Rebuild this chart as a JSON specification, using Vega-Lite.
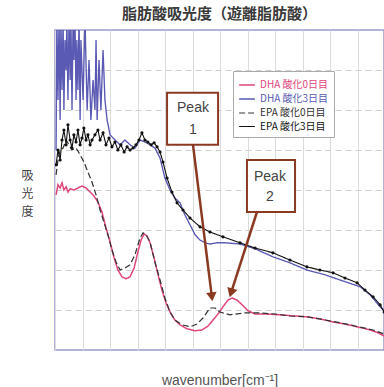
{
  "$schema": "https://vega.github.io/schema/vega-lite/v6.json",
  "width": 329,
  "height": 320,
  "autosize": "none",
  "padding": {"left": 55, "top": 30, "right": 0, "bottom": 37},
  "background": "white",
  "title": {"text": "脂肪酸吸光度（遊離脂肪酸）", "font": "Noto Sans CJK JP", "fontSize": 15, "fontWeight": "bold", "color": "#3a3a3a", "offset": 8, "anchor": "middle"},
  "config": {
    "view": {"stroke": "#9c9cd0", "strokeWidth": 1.5},
    "axis": {"labels": false, "ticks": false, "domain": false},
    "legend": {
      "orient": "none", "legendX": 178, "legendY": 41, "fillColor": "white", "strokeColor": "#aaaaaa",
      "padding": 5, "labelFontSize": 10, "labelFont": "Noto Sans CJK JP", "symbolType": "stroke",
      "symbolSize": 250, "rowPadding": 0, "labelOffset": 4, "symbolStrokeWidth": 1.5
    }
  },
  "datasets": {
    "curves": [
      {"s":"DHA 酸化0日目","x":0.04,"y":3.88},{"s":"DHA 酸化0日目","x":0.11,"y":4.13},{"s":"DHA 酸化0日目","x":0.19,"y":4.05},{"s":"DHA 酸化0日目","x":0.26,"y":4.18},{"s":"DHA 酸化0日目","x":0.33,"y":4.0},{"s":"DHA 酸化0日目","x":0.41,"y":4.08},{"s":"DHA 酸化0日目","x":0.48,"y":3.95},{"s":"DHA 酸化0日目","x":0.56,"y":4.03},{"s":"DHA 酸化0日目","x":0.7,"y":4.0},{"s":"DHA 酸化0日目","x":0.85,"y":4.05},{"s":"DHA 酸化0日目","x":1.0,"y":4.1},{"s":"DHA 酸化0日目","x":1.15,"y":4.05},{"s":"DHA 酸化0日目","x":1.3,"y":3.95},{"s":"DHA 酸化0日目","x":1.44,"y":3.85},{"s":"DHA 酸化0日目","x":1.59,"y":3.7},{"s":"DHA 酸化0日目","x":1.74,"y":3.45},{"s":"DHA 酸化0日目","x":1.89,"y":3.05},{"s":"DHA 酸化0日目","x":2.04,"y":2.7},{"s":"DHA 酸化0日目","x":2.19,"y":2.3},{"s":"DHA 酸化0日目","x":2.33,"y":2.0},{"s":"DHA 酸化0日目","x":2.48,"y":1.83},{"s":"DHA 酸化0日目","x":2.63,"y":1.78},{"s":"DHA 酸化0日目","x":2.78,"y":1.83},{"s":"DHA 酸化0日目","x":2.93,"y":2.05},{"s":"DHA 酸化0日目","x":3.07,"y":2.45},{"s":"DHA 酸化0日目","x":3.19,"y":2.75},{"s":"DHA 酸化0日目","x":3.3,"y":2.9},{"s":"DHA 酸化0日目","x":3.41,"y":2.85},{"s":"DHA 酸化0日目","x":3.52,"y":2.68},{"s":"DHA 酸化0日目","x":3.67,"y":2.3},{"s":"DHA 酸化0日目","x":3.81,"y":1.9},{"s":"DHA 酸化0日目","x":3.96,"y":1.5},{"s":"DHA 酸化0日目","x":4.11,"y":1.18},{"s":"DHA 酸化0日目","x":4.26,"y":0.95},{"s":"DHA 酸化0日目","x":4.44,"y":0.75},{"s":"DHA 酸化0日目","x":4.63,"y":0.63},{"s":"DHA 酸化0日目","x":4.89,"y":0.53},{"s":"DHA 酸化0日目","x":5.19,"y":0.48},{"s":"DHA 酸化0日目","x":5.44,"y":0.5},{"s":"DHA 酸化0日目","x":5.67,"y":0.6},{"s":"DHA 酸化0日目","x":5.85,"y":0.75},{"s":"DHA 酸化0日目","x":6.04,"y":0.9},{"s":"DHA 酸化0日目","x":6.22,"y":1.08},{"s":"DHA 酸化0日目","x":6.41,"y":1.25},{"s":"DHA 酸化0日目","x":6.56,"y":1.3},{"s":"DHA 酸化0日目","x":6.74,"y":1.25},{"s":"DHA 酸化0日目","x":6.93,"y":1.13},{"s":"DHA 酸化0日目","x":7.15,"y":0.98},{"s":"DHA 酸化0日目","x":7.41,"y":0.9},{"s":"DHA 酸化0日目","x":7.78,"y":0.9},{"s":"DHA 酸化0日目","x":8.33,"y":0.88},{"s":"DHA 酸化0日目","x":8.89,"y":0.85},{"s":"DHA 酸化0日目","x":9.33,"y":0.83},{"s":"DHA 酸化0日目","x":9.81,"y":0.78},{"s":"DHA 酸化0日目","x":10.3,"y":0.7},{"s":"DHA 酸化0日目","x":10.74,"y":0.65},{"s":"DHA 酸化0日目","x":11.19,"y":0.58},{"s":"DHA 酸化0日目","x":11.67,"y":0.5},{"s":"DHA 酸化0日目","x":11.96,"y":0.43},{"s":"DHA 酸化0日目","x":12.19,"y":0.35},

      {"s":"DHA 酸化3日目","x":0.04,"y":5.0},{"s":"DHA 酸化3日目","x":0.07,"y":8.3},{"s":"DHA 酸化3日目","x":0.11,"y":6.25},{"s":"DHA 酸化3日目","x":0.15,"y":8.3},{"s":"DHA 酸化3日目","x":0.19,"y":5.75},{"s":"DHA 酸化3日目","x":0.22,"y":8.3},{"s":"DHA 酸化3日目","x":0.26,"y":6.5},{"s":"DHA 酸化3日目","x":0.3,"y":8.3},{"s":"DHA 酸化3日目","x":0.33,"y":6.0},{"s":"DHA 酸化3日目","x":0.37,"y":7.75},{"s":"DHA 酸化3日目","x":0.41,"y":7.0},{"s":"DHA 酸化3日目","x":0.44,"y":8.3},{"s":"DHA 酸化3日目","x":0.48,"y":6.25},{"s":"DHA 酸化3日目","x":0.52,"y":8.3},{"s":"DHA 酸化3日目","x":0.56,"y":6.75},{"s":"DHA 酸化3日目","x":0.59,"y":8.3},{"s":"DHA 酸化3日目","x":0.63,"y":6.0},{"s":"DHA 酸化3日目","x":0.67,"y":8.3},{"s":"DHA 酸化3日目","x":0.7,"y":7.25},{"s":"DHA 酸化3日目","x":0.74,"y":8.3},{"s":"DHA 酸化3日目","x":0.78,"y":6.25},{"s":"DHA 酸化3日目","x":0.81,"y":7.75},{"s":"DHA 酸化3日目","x":0.85,"y":6.5},{"s":"DHA 酸化3日目","x":0.89,"y":8.3},{"s":"DHA 酸化3日目","x":0.93,"y":5.75},{"s":"DHA 酸化3日目","x":0.96,"y":7.75},{"s":"DHA 酸化3日目","x":1.04,"y":6.25},{"s":"DHA 酸化3日目","x":1.11,"y":8.3},{"s":"DHA 酸化3日目","x":1.19,"y":6.0},{"s":"DHA 酸化3日目","x":1.26,"y":7.25},{"s":"DHA 酸化3日目","x":1.33,"y":5.75},{"s":"DHA 酸化3日目","x":1.41,"y":6.75},{"s":"DHA 酸化3日目","x":1.48,"y":6.0},{"s":"DHA 酸化3日目","x":1.52,"y":7.75},{"s":"DHA 酸化3日目","x":1.56,"y":5.75},{"s":"DHA 酸化3日目","x":1.63,"y":7.25},{"s":"DHA 酸化3日目","x":1.7,"y":6.0},{"s":"DHA 酸化3日目","x":1.78,"y":7.5},{"s":"DHA 酸化3日目","x":1.85,"y":6.25},{"s":"DHA 酸化3日目","x":1.93,"y":5.75},{"s":"DHA 酸化3日目","x":2.04,"y":5.38},{"s":"DHA 酸化3日目","x":2.22,"y":5.25},{"s":"DHA 酸化3日目","x":2.41,"y":5.13},{"s":"DHA 酸化3日目","x":2.59,"y":5.25},{"s":"DHA 酸化3日目","x":2.78,"y":5.13},{"s":"DHA 酸化3日目","x":2.96,"y":5.05},{"s":"DHA 酸化3日目","x":3.15,"y":5.25},{"s":"DHA 酸化3日目","x":3.33,"y":5.2},{"s":"DHA 酸化3日目","x":3.52,"y":5.13},{"s":"DHA 酸化3日目","x":3.7,"y":5.05},{"s":"DHA 酸化3日目","x":3.89,"y":4.8},{"s":"DHA 酸化3日目","x":4.07,"y":4.3},{"s":"DHA 酸化3日目","x":4.26,"y":4.0},{"s":"DHA 酸化3日目","x":4.44,"y":3.8},{"s":"DHA 酸化3日目","x":4.63,"y":3.68},{"s":"DHA 酸化3日目","x":4.81,"y":3.38},{"s":"DHA 酸化3日目","x":5.0,"y":3.13},{"s":"DHA 酸化3日目","x":5.19,"y":2.88},{"s":"DHA 酸化3日目","x":5.37,"y":2.75},{"s":"DHA 酸化3日目","x":5.56,"y":2.68},{"s":"DHA 酸化3日目","x":5.74,"y":2.65},{"s":"DHA 酸化3日目","x":6.0,"y":2.68},{"s":"DHA 酸化3日目","x":6.3,"y":2.68},{"s":"DHA 酸化3日目","x":6.85,"y":2.65},{"s":"DHA 酸化3日目","x":7.41,"y":2.53},{"s":"DHA 酸化3日目","x":8.07,"y":2.33},{"s":"DHA 酸化3日目","x":8.7,"y":2.18},{"s":"DHA 酸化3日目","x":9.33,"y":2.0},{"s":"DHA 酸化3日目","x":10.0,"y":1.88},{"s":"DHA 酸化3日目","x":10.56,"y":1.75},{"s":"DHA 酸化3日目","x":11.3,"y":1.58},{"s":"DHA 酸化3日目","x":11.67,"y":1.38},{"s":"DHA 酸化3日目","x":12.04,"y":1.08},{"s":"DHA 酸化3日目","x":12.19,"y":0.98},

      {"s":"EPA 酸化0日目","x":0.04,"y":4.38},{"s":"EPA 酸化0日目","x":0.11,"y":4.75},{"s":"EPA 酸化0日目","x":0.19,"y":5.0},{"s":"EPA 酸化0日目","x":0.3,"y":5.05},{"s":"EPA 酸化0日目","x":0.41,"y":5.25},{"s":"EPA 酸化0日目","x":0.52,"y":5.13},{"s":"EPA 酸化0日目","x":0.63,"y":5.0},{"s":"EPA 酸化0日目","x":0.78,"y":5.05},{"s":"EPA 酸化0日目","x":0.93,"y":4.88},{"s":"EPA 酸化0日目","x":1.07,"y":4.7},{"s":"EPA 酸化0日目","x":1.22,"y":4.45},{"s":"EPA 酸化0日目","x":1.37,"y":4.2},{"s":"EPA 酸化0日目","x":1.52,"y":3.88},{"s":"EPA 酸化0日目","x":1.67,"y":3.5},{"s":"EPA 酸化0日目","x":1.81,"y":3.2},{"s":"EPA 酸化0日目","x":1.96,"y":2.88},{"s":"EPA 酸化0日目","x":2.11,"y":2.5},{"s":"EPA 酸化0日目","x":2.26,"y":2.2},{"s":"EPA 酸化0日目","x":2.41,"y":2.0},{"s":"EPA 酸化0日目","x":2.59,"y":2.05},{"s":"EPA 酸化0日目","x":2.78,"y":2.13},{"s":"EPA 酸化0日目","x":2.96,"y":2.38},{"s":"EPA 酸化0日目","x":3.15,"y":2.8},{"s":"EPA 酸化0日目","x":3.26,"y":2.93},{"s":"EPA 酸化0日目","x":3.37,"y":2.88},{"s":"EPA 酸化0日目","x":3.52,"y":2.7},{"s":"EPA 酸化0日目","x":3.7,"y":2.2},{"s":"EPA 酸化0日目","x":3.89,"y":1.75},{"s":"EPA 酸化0日目","x":4.07,"y":1.3},{"s":"EPA 酸化0日目","x":4.26,"y":0.95},{"s":"EPA 酸化0日目","x":4.44,"y":0.75},{"s":"EPA 酸化0日目","x":4.7,"y":0.63},{"s":"EPA 酸化0日目","x":5.0,"y":0.58},{"s":"EPA 酸化0日目","x":5.26,"y":0.65},{"s":"EPA 酸化0日目","x":5.48,"y":0.8},{"s":"EPA 酸化0日目","x":5.74,"y":1.05},{"s":"EPA 酸化0日目","x":5.93,"y":1.05},{"s":"EPA 酸化0日目","x":6.11,"y":0.95},{"s":"EPA 酸化0日目","x":6.48,"y":0.88},{"s":"EPA 酸化0日目","x":7.04,"y":0.93},{"s":"EPA 酸化0日目","x":7.48,"y":0.93},{"s":"EPA 酸化0日目","x":8.15,"y":0.9},{"s":"EPA 酸化0日目","x":8.7,"y":0.85},{"s":"EPA 酸化0日目","x":9.33,"y":0.83},{"s":"EPA 酸化0日目","x":10.0,"y":0.75},{"s":"EPA 酸化0日目","x":10.56,"y":0.68},{"s":"EPA 酸化0日目","x":11.11,"y":0.6},{"s":"EPA 酸化0日目","x":11.78,"y":0.5},{"s":"EPA 酸化0日目","x":12.19,"y":0.4},

      {"s":"EPA 酸化3日目","x":0.04,"y":4.63},{"s":"EPA 酸化3日目","x":0.11,"y":5.0},{"s":"EPA 酸化3日目","x":0.19,"y":4.75},{"s":"EPA 酸化3日目","x":0.26,"y":5.25},{"s":"EPA 酸化3日目","x":0.33,"y":5.5},{"s":"EPA 酸化3日目","x":0.41,"y":5.13},{"s":"EPA 酸化3日目","x":0.48,"y":5.63},{"s":"EPA 酸化3日目","x":0.56,"y":5.25},{"s":"EPA 酸化3日目","x":0.63,"y":5.05},{"s":"EPA 酸化3日目","x":0.7,"y":5.38},{"s":"EPA 酸化3日目","x":0.78,"y":5.2},{"s":"EPA 酸化3日目","x":0.85,"y":5.5},{"s":"EPA 酸化3日目","x":0.93,"y":5.13},{"s":"EPA 酸化3日目","x":1.0,"y":5.3},{"s":"EPA 酸化3日目","x":1.07,"y":5.55},{"s":"EPA 酸化3日目","x":1.15,"y":5.25},{"s":"EPA 酸化3日目","x":1.22,"y":5.38},{"s":"EPA 酸化3日目","x":1.3,"y":5.13},{"s":"EPA 酸化3日目","x":1.37,"y":5.25},{"s":"EPA 酸化3日目","x":1.48,"y":5.38},{"s":"EPA 酸化3日目","x":1.59,"y":5.5},{"s":"EPA 酸化3日目","x":1.67,"y":5.25},{"s":"EPA 酸化3日目","x":1.78,"y":5.43},{"s":"EPA 酸化3日目","x":1.89,"y":5.13},{"s":"EPA 酸化3日目","x":2.0,"y":5.3},{"s":"EPA 酸化3日目","x":2.11,"y":5.08},{"s":"EPA 酸化3日目","x":2.22,"y":5.2},{"s":"EPA 酸化3日目","x":2.33,"y":5.0},{"s":"EPA 酸化3日目","x":2.44,"y":5.13},{"s":"EPA 酸化3日目","x":2.56,"y":4.95},{"s":"EPA 酸化3日目","x":2.67,"y":5.08},{"s":"EPA 酸化3日目","x":2.78,"y":5.0},{"s":"EPA 酸化3日目","x":2.89,"y":5.05},{"s":"EPA 酸化3日目","x":3.0,"y":5.13},{"s":"EPA 酸化3日目","x":3.11,"y":5.25},{"s":"EPA 酸化3日目","x":3.22,"y":5.43},{"s":"EPA 酸化3日目","x":3.33,"y":5.25},{"s":"EPA 酸化3日目","x":3.44,"y":5.2},{"s":"EPA 酸化3日目","x":3.56,"y":5.13},{"s":"EPA 酸化3日目","x":3.67,"y":5.18},{"s":"EPA 酸化3日目","x":3.78,"y":5.08},{"s":"EPA 酸化3日目","x":3.89,"y":4.95},{"s":"EPA 酸化3日目","x":4.0,"y":4.7},{"s":"EPA 酸化3日目","x":4.15,"y":4.3},{"s":"EPA 酸化3日目","x":4.33,"y":3.95},{"s":"EPA 酸化3日目","x":4.52,"y":3.68},{"s":"EPA 酸化3日目","x":4.74,"y":3.5},{"s":"EPA 酸化3日目","x":5.0,"y":3.3},{"s":"EPA 酸化3日目","x":5.37,"y":3.08},{"s":"EPA 酸化3日目","x":5.74,"y":2.95},{"s":"EPA 酸化3日目","x":6.22,"y":2.83},{"s":"EPA 酸化3日目","x":6.85,"y":2.68},{"s":"EPA 酸化3日目","x":7.41,"y":2.55},{"s":"EPA 酸化3日目","x":8.07,"y":2.43},{"s":"EPA 酸化3日目","x":8.7,"y":2.25},{"s":"EPA 酸化3日目","x":9.33,"y":2.08},{"s":"EPA 酸化3日目","x":9.81,"y":2.0},{"s":"EPA 酸化3日目","x":10.3,"y":1.93},{"s":"EPA 酸化3日目","x":10.74,"y":1.8},{"s":"EPA 酸化3日目","x":11.19,"y":1.68},{"s":"EPA 酸化3日目","x":11.48,"y":1.5},{"s":"EPA 酸化3日目","x":11.78,"y":1.33},{"s":"EPA 酸化3日目","x":12.04,"y":1.13},{"s":"EPA 酸化3日目","x":12.19,"y":0.95}
    ],
    "ann": [
      {"id":"Peak 1","bx1":4.15,"bx2":6.04,"by1":5.13,"by2":6.43,"ax1":5.11,"ay1":5.13,"ax2":5.81,"ay2":1.33,"tx":5.11,"ty1":6.05,"ty2":5.5,"l1":"Peak","l2":"1"},
      {"id":"Peak 2","bx1":7.11,"bx2":8.89,"by1":3.45,"by2":4.75,"ax1":7.48,"ay1":3.45,"ax2":6.52,"ay2":1.43,"tx":7.96,"ty1":4.33,"ty2":3.83,"l1":"Peak","l2":"2"}
    ]
  },
  "encoding": {
    "x": {"type": "quantitative", "scale": {"domain": [0, 12.185], "nice": false, "zero": false},
      "axis": {"title": "wavenumber[cm⁻¹]", "titleFont": "Liberation Sans", "titleFontSize": 14, "titleFontWeight": "normal", "titleColor": "#555555", "titlePadding": 23,
        "values": [0,1.019,2.037,3.056,4.074,5.093,6.111,7.13,8.148,9.167,10.185,11.204], "grid": true, "gridColor": "#dcdcdc", "gridWidth": 1}},
    "y": {"type": "quantitative", "scale": {"domain": [0, 8], "nice": false},
      "axis": {"title": ["吸","光","度"], "titleAngle": 0, "titleFont": "Noto Sans CJK JP", "titleFontSize": 12, "titleFontWeight": "normal", "titleColor": "#444444",
        "titleX": -28, "titleY": 140, "titleAlign": "center", "titleBaseline": "top", "titleLineHeight": 18,
        "values": [1,2,3,4,5,6,7], "grid": true, "gridColor": "#cfcfcf", "gridDash": [6, 4], "gridWidth": 1}}
  },
  "layer": [
    {
      "data": {"name": "curves"},
      "mark": {"type": "line", "clip": true, "interpolate": "linear"},
      "encoding": {
        "x": {"field": "x", "type": "quantitative"},
        "y": {"field": "y", "type": "quantitative"},
        "color": {"field": "s", "type": "nominal", "title": null,
          "scale": {"domain": ["DHA 酸化0日目","DHA 酸化3日目","EPA 酸化0日目","EPA 酸化3日目"], "range": ["#e0457b","#5a5ab4","#333333","#111111"]},
          "legend": {"title": null, "encode": {"labels": {"update": {"fill": {"scale": "color", "field": "value"}}}}}},
        "strokeDash": {"field": "s", "type": "nominal", "title": null,
          "scale": {"domain": ["DHA 酸化0日目","DHA 酸化3日目","EPA 酸化0日目","EPA 酸化3日目"], "range": [[1,0],[1,0],[6,3],[1,0]]}},
        "strokeWidth": {"field": "s", "type": "nominal", "title": null,
          "scale": {"domain": ["DHA 酸化0日目","DHA 酸化3日目","EPA 酸化0日目","EPA 酸化3日目"], "range": [1.5,1.1,2.2,1.8]}},
        "order": {"field": "x", "type": "quantitative"}
      }
    },
    {
      "data": {"name": "curves"},
      "transform": [{"filter": "datum.s === 'EPA 酸化3日目'"}],
      "mark": {"type": "point", "filled": true, "shape": "circle", "size": 10, "color": "#111111", "opacity": 1, "clip": true},
      "encoding": {"x": {"field": "x", "type": "quantitative"}, "y": {"field": "y", "type": "quantitative"}}
    },
    {
      "data": {"name": "ann"},
      "mark": {"type": "rule", "color": "#8b3a22", "strokeWidth": 2.5},
      "encoding": {"x": {"field": "ax1", "type": "quantitative"}, "y": {"field": "ay1", "type": "quantitative"}, "x2": {"field": "ax2"}, "y2": {"field": "ay2"}}
    },
    {
      "data": {"name": "ann"},
      "transform": [{"filter": "datum.id === 'Peak 1'"}],
      "mark": {"type": "point", "shape": "triangle-down", "filled": true, "size": 110, "color": "#8b3a22", "opacity": 1, "angle": -7},
      "encoding": {"x": {"field": "ax2", "type": "quantitative"}, "y": {"field": "ay2", "type": "quantitative"}}
    },
    {
      "data": {"name": "ann"},
      "transform": [{"filter": "datum.id === 'Peak 2'"}],
      "mark": {"type": "point", "shape": "triangle-down", "filled": true, "size": 110, "color": "#8b3a22", "opacity": 1, "angle": 17},
      "encoding": {"x": {"field": "ax2", "type": "quantitative"}, "y": {"field": "ay2", "type": "quantitative"}}
    },
    {
      "data": {"name": "ann"},
      "mark": {"type": "rect", "fill": "white", "stroke": "#8b3a22", "strokeWidth": 2},
      "encoding": {"x": {"field": "bx1", "type": "quantitative"}, "x2": {"field": "bx2"}, "y": {"field": "by1", "type": "quantitative"}, "y2": {"field": "by2"}}
    },
    {
      "data": {"name": "ann"},
      "mark": {"type": "text", "font": "Liberation Sans", "fontSize": 14, "color": "#444444", "baseline": "middle", "align": "center"},
      "encoding": {"x": {"field": "tx", "type": "quantitative"}, "y": {"field": "ty1", "type": "quantitative"}, "text": {"field": "l1"}}
    },
    {
      "data": {"name": "ann"},
      "mark": {"type": "text", "font": "Liberation Sans", "fontSize": 14, "color": "#444444", "baseline": "middle", "align": "center"},
      "encoding": {"x": {"field": "tx", "type": "quantitative"}, "y": {"field": "ty2", "type": "quantitative"}, "text": {"field": "l2"}}
    }
  ]
}
